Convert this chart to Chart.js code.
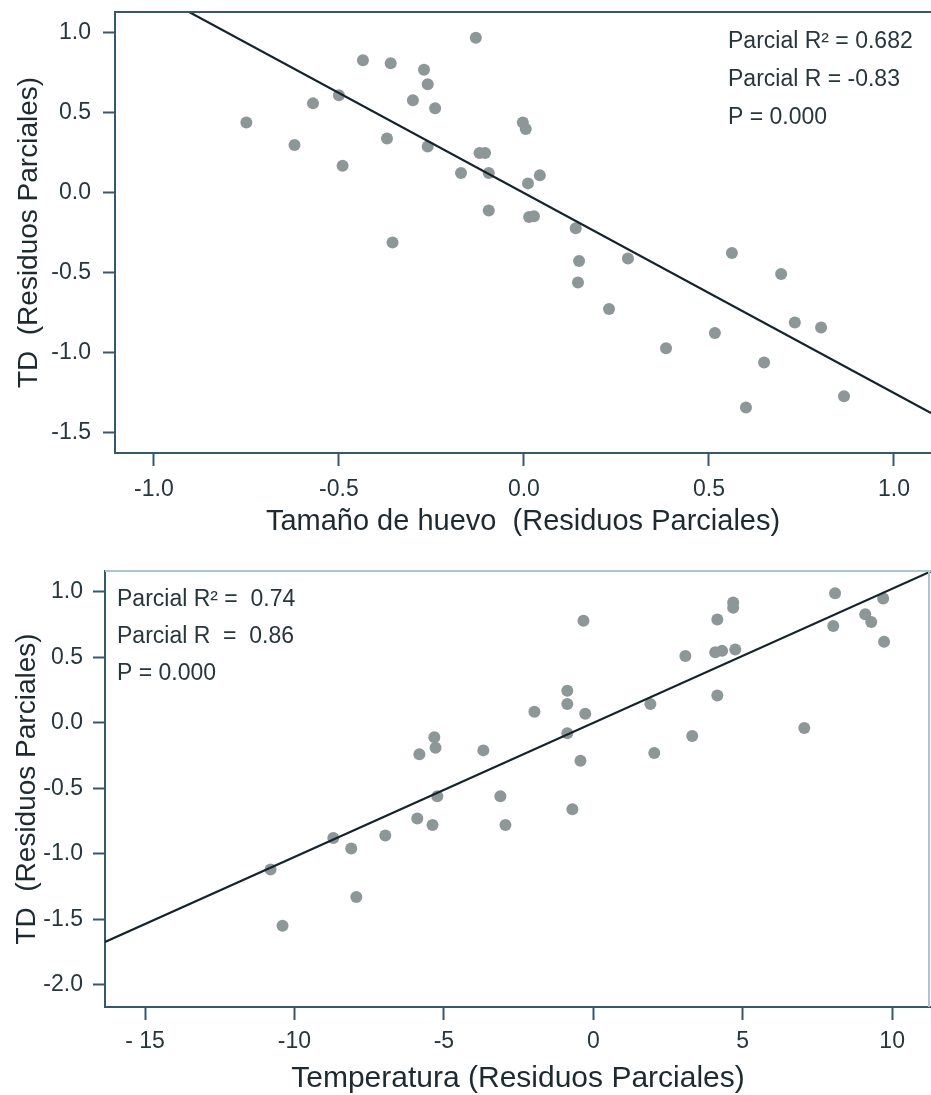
<!DOCTYPE html>
<html>
<head>
<meta charset="utf-8">
<script src="https://cdn.jsdelivr.net/npm/chart.js@4.4.1/dist/chart.umd.min.js"></script>
<style>
  body { margin: 0; background: #fff; }
  .panel { position: absolute; left: 0; width: 931px; height: 545px; }
  #topPanel { top: 0; }
  #bottomPanel { top: 550px; }
</style>
</head>
<body>
<div class="panel" id="topPanel"><canvas id="eggChart" width="931" height="545"></canvas></div>
<div class="panel" id="bottomPanel"><canvas id="tempChart" width="931" height="545"></canvas></div>
<script>
// Panel 1: TD vs egg size (partial residuals)
const eggX = [-0.75, -0.62, -0.57, -0.50, -0.49, -0.435, -0.36, -0.37, -0.27, -0.26,
              -0.30, -0.24, -0.26, -0.355, -0.13, -0.12, -0.105, -0.17, -0.095, -0.003,
              0.005, 0.043, 0.011, -0.095, 0.014, 0.027, 0.14, 0.149, 0.146, 0.281,
              0.23, 0.384, 0.562, 0.695, 0.516, 0.732, 0.803, 0.649, 0.60, 0.865];
const eggY = [0.44, 0.30, 0.56, 0.61, 0.17, 0.83, 0.81, 0.34, 0.77, 0.68,
              0.58, 0.53, 0.29, -0.31, 0.97, 0.25, 0.25, 0.125, 0.125, 0.44,
              0.40, 0.11, 0.06, -0.11, -0.15, -0.145, -0.22, -0.425, -0.56, -0.41,
              -0.725, -0.97, -0.375, -0.506, -0.875, -0.81, -0.84, -1.06, -1.34, -1.27];
const eggFit = [0, -1.25];   // intercept, slope
const eggXRange = [-1.105, 1.1];
const eggYRange = [-1.625, 1.131];
const eggXTicks = [-1, -0.5, 0, 0.5, 1];
const eggXLabels = ['-1.0', '-0.5', '0.0', '0.5', '1.0'];
const eggYTicks = [1, 0.5, 0, -0.5, -1, -1.5];
const eggYLabels = ['1.0', '0.5', '0.0', '-0.5', '-1.0', '-1.5'];
const eggStats = ['Parcial R² = 0.682', 'Parcial R = -0.83', 'P = 0.000'];

// Panel 2: TD vs temperature (partial residuals)
const tempX = [-10.8, -10.4, -8.7, -8.1, -7.93, -6.96, -5.89, -5.38, -5.82, -5.32,
               -5.28, -5.22, -3.68, -3.11, -2.94, -1.97, -0.87, -0.87, -0.87, -0.70,
               -0.43, -0.33, -0.27, 1.91, 2.04, 3.08, 3.31, 4.08, 4.15, 4.15,
               4.31, 4.68, 4.68, 4.75, 7.06, 8.03, 8.09, 9.10, 9.30, 9.70, 9.73];
const tempY = [-1.12, -1.55, -0.88, -0.96, -1.33, -0.86, -0.73, -0.78, -0.24, -0.11,
               -0.19, -0.56, -0.21, -0.56, -0.78, 0.085, 0.245, 0.145, -0.08, -0.66,
               -0.29, 0.78, 0.07, 0.145, -0.23, 0.51, -0.10, 0.54, 0.79, 0.21,
               0.55, 0.92, 0.88, 0.56, -0.04, 0.74, 0.99, 0.83, 0.77, 0.95, 0.62];
const tempFit = [0, 0.1024];
const tempXRange = [-16.34, 11.3];
const tempYRange = [-2.17, 1.16];
const tempXTicks = [-15, -10, -5, 0, 5, 10];
const tempXLabels = ['- 15', '-10', '-5', '0', '5', '10'];
const tempYTicks = [1, 0.5, 0, -0.5, -1, -1.5, -2];
const tempYLabels = ['1.0', '0.5', '0.0', '-0.5', '-1.0', '-1.5', '-2.0'];
const tempStats = ['Parcial R² =  0.74', 'Parcial R  =  0.86', 'P = 0.000'];

const FONT = '"Liberation Sans", Arial, sans-serif';
const TEXT = '#27363c';
const AXIS = '#35596a';

// frame line on top (and right) plus the stats box text
const framePlugin = {
  id: 'framePlugin',
  afterDraw(chart, args, opts) {
    const { ctx, chartArea: a } = chart;
    ctx.save();
    ctx.strokeStyle = opts.color;
    ctx.lineWidth = 2;
    ctx.beginPath();
    ctx.moveTo(a.left, a.top);
    ctx.lineTo(a.right, a.top);
    if (opts.right) {
      ctx.moveTo(a.right - 2, a.top);
      ctx.lineTo(a.right - 2, a.bottom);
    }
    ctx.stroke();
    ctx.fillStyle = TEXT;
    ctx.font = '23px ' + FONT;
    ctx.textBaseline = 'middle';
    opts.lines.forEach((t, i) => ctx.fillText(t, opts.x, opts.y + i * opts.step));
    ctx.restore();
  }
};

function makePanel(id, p) {
  const canvas = document.getElementById(id);
  if (!canvas) return;
  const ctx = canvas.getContext('2d');

  const points = p.xs.map((x, i) => ({ x: x, y: p.ys[i] }));
  const fitLine = p.xRange.map(x => ({ x: x, y: p.fit[0] + p.fit[1] * x }));

  new Chart(ctx, {
    type: 'scatter',
    data: {
      datasets: [{
        type: 'line',
        data: fitLine,
        borderColor: '#15232a',
        borderWidth: 2.2,
        pointRadius: 0,
        fill: false,
        clip: 0,
        order: 1
      }, {
        data: points,
        backgroundColor: '#8c9797',
        borderWidth: 0,
        pointRadius: 6,
        order: 2
      }]
    },
    options: {
      responsive: false,
      animation: false,
      layout: { autoPadding: false, padding: { top: p.padTop, right: 0, left: 0, bottom: 0 } },
      plugins: {
        legend: { display: false },
        tooltip: { enabled: false },
        framePlugin: p.frame
      },
      scales: {
        x: {
          type: 'linear',
          min: p.xRange[0],
          max: p.xRange[1],
          afterBuildTicks: axis => { axis.ticks = p.xTicks.map(v => ({ value: v })); },
          afterFit: axis => {
            axis.height = p.xAxisHeight;
            axis.paddingLeft = 0;
            axis.paddingRight = 0;
          },
          ticks: {
            callback: (v, i) => p.xLabels[i],
            color: TEXT,
            font: { family: FONT, size: 23 },
            padding: p.xTickPad,
            maxRotation: 0
          },
          grid: { drawOnChartArea: false, tickLength: 13, tickColor: AXIS, tickWidth: 2 },
          border: { color: AXIS, width: 2 },
          title: {
            display: true,
            text: p.xTitle,
            color: '#1d2a30',
            font: { family: FONT, size: p.xTitleSize, lineHeight: 1 },
            padding: { top: 0, bottom: p.xTitlePad }
          }
        },
        y: {
          type: 'linear',
          min: p.yRange[0],
          max: p.yRange[1],
          afterBuildTicks: axis => { axis.ticks = p.yTicks.map(v => ({ value: v })); },
          afterFit: axis => {
            axis.width = p.yAxisWidth;
            axis.paddingTop = 0;
            axis.paddingBottom = 0;
          },
          ticks: {
            callback: (v, i) => p.yLabels[i],
            color: TEXT,
            font: { family: FONT, size: 23 },
            padding: p.yTickPad
          },
          grid: { drawOnChartArea: false, tickLength: 12, tickColor: AXIS, tickWidth: 2 },
          border: { color: AXIS, width: 2 },
          title: {
            display: true,
            text: 'TD  (Residuos Parciales)',
            color: '#1d2a30',
            font: { family: FONT, size: 28, lineHeight: 1 },
            padding: { top: p.yTitlePad, bottom: 0 }
          }
        }
      }
    },
    plugins: [framePlugin]
  });
}

makePanel('eggChart', {
  xs: eggX, ys: eggY, fit: eggFit,
  xRange: eggXRange, yRange: eggYRange,
  xTicks: eggXTicks, xLabels: eggXLabels,
  yTicks: eggYTicks, yLabels: eggYLabels,
  xTitle: 'Tamaño de huevo  (Residuos Parciales)', xTitleSize: 29,
  padTop: 12, xAxisHeight: 92, yAxisWidth: 115,
  xTickPad: 10, yTickPad: 12, xTitlePad: 9, yTitlePad: 15,
  frame: { color: '#35596a', right: false, lines: eggStats, x: 728, y: 42, step: 38 }
});

makePanel('tempChart', {
  xs: tempX, ys: tempY, fit: tempFit,
  xRange: tempXRange, yRange: tempYRange,
  xTicks: tempXTicks, xLabels: tempXLabels,
  yTicks: tempYTicks, yLabels: tempYLabels,
  xTitle: 'Temperatura (Residuos Parciales)', xTitleSize: 30,
  padTop: 21, xAxisHeight: 88, yAxisWidth: 105,
  xTickPad: 8, yTickPad: 10, xTitlePad: 1, yTitlePad: 13,
  frame: { color: '#a8c6d6', right: true, lines: tempStats, x: 117, y: 50, step: 37 }
});
</script>
</body>
</html>
